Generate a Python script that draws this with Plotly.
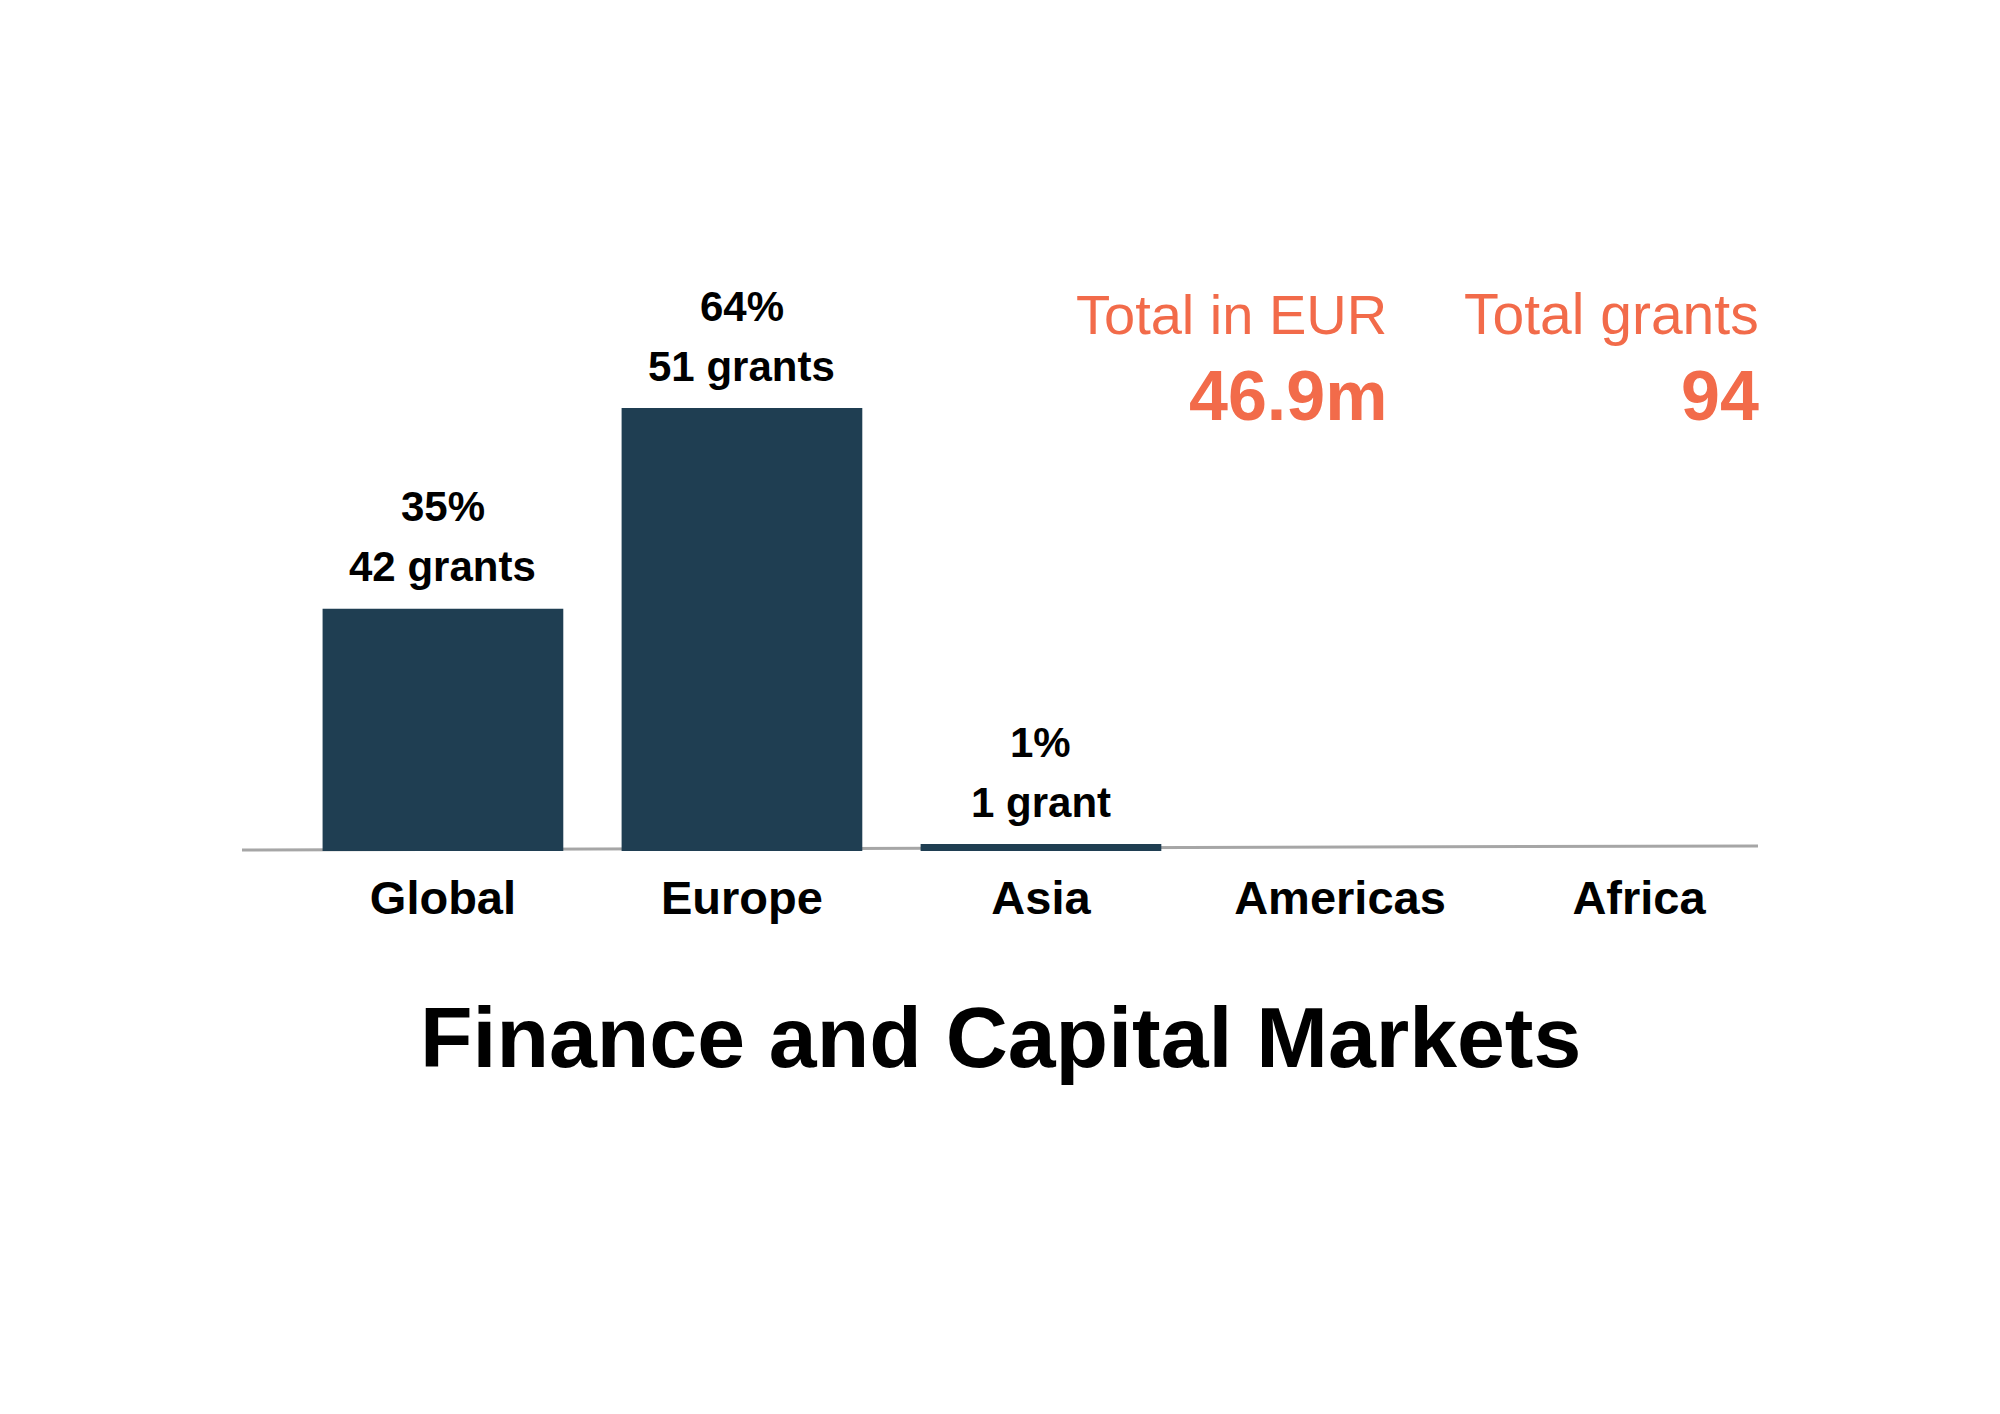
import plotly.graph_objects as go

regions = ["Global", "Europe", "Asia", "Americas", "Africa"]
share_pct = [35, 64, 1, 0, 0]
grants = [42, 51, 1, 0, 0]
title_text = "Finance and Capital Markets"
total_eur_label = "Total in EUR"
total_eur_value = "46.9m"
total_grants_label = "Total grants"
total_grants_value = "94"

BAR = "#1F3E52"
CORAL = "#F26B4A"
FONT = "Liberation Sans, Arial, sans-serif"

W, H = 2000, 1414
OFF = 8  # page body margin compensation
x_left, x_right = 242 - OFF, 1758 - OFF
y_base = 851 - OFF
px_per_unit = 6.92
y_top_val = 70
y_top_px = y_base - y_top_val * px_per_unit

fig = go.Figure()
fig.add_trace(go.Bar(
    x=regions, y=share_pct, marker=dict(color=BAR, line=dict(width=0)),
    hoverinfo="skip",
))

annotations = []
for r, p, g in zip(regions, share_pct, grants):
    if g <= 0:
        continue
    word = "grant" if g == 1 else "grants"
    annotations.append(dict(
        x=r, y=p, xref="x", yref="y", text=f"<b>{g} {word}</b>",
        showarrow=False, yanchor="middle", yshift=42,
        font=dict(family=FONT, size=42, color="#000000"),
    ))
    annotations.append(dict(
        x=r, y=p, xref="x", yref="y", text=f"<b>{p}%</b>",
        showarrow=False, yanchor="middle", yshift=102,
        font=dict(family=FONT, size=42, color="#000000"),
    ))

annotations += [
    dict(x=(1000 - OFF) / W, y=1 - (1037 - OFF) / H, xref="paper", yref="paper", text=f"<b>{title_text}</b>",
         showarrow=False, xanchor="center", yanchor="middle",
         font=dict(family=FONT, size=86, color="#000000")),
    dict(x=(1389 - OFF) / W, y=1 - (314 - OFF) / H, xref="paper", yref="paper", text=total_eur_label,
         showarrow=False, xanchor="right", yanchor="middle",
         font=dict(family=FONT, size=56, color=CORAL)),
    dict(x=(1389 - OFF) / W, y=1 - (396 - OFF) / H, xref="paper", yref="paper", text=f"<b>{total_eur_value}</b>",
         showarrow=False, xanchor="right", yanchor="middle",
         font=dict(family=FONT, size=70, color=CORAL)),
    dict(x=(1761 - OFF) / W, y=1 - (314 - OFF) / H, xref="paper", yref="paper", text=total_grants_label,
         showarrow=False, xanchor="right", yanchor="middle",
         font=dict(family=FONT, size=57, color=CORAL)),
    dict(x=(1761 - OFF) / W, y=1 - (396 - OFF) / H, xref="paper", yref="paper", text=f"<b>{total_grants_value}</b>",
         showarrow=False, xanchor="right", yanchor="middle",
         font=dict(family=FONT, size=70, color=CORAL)),
]

fig.update_layout(
    width=W, height=H,
    margin=dict(l=0, r=0, t=0, b=0),
    paper_bgcolor="white", plot_bgcolor="white",
    showlegend=False,
    bargap=0.195,
    xaxis=dict(
        domain=[x_left / W, x_right / W],
        range=[-0.672, 4.398],
        type="category",
        showgrid=False, zeroline=False, showline=False,
        ticks="", tickfont=dict(family=FONT, size=47, color="#000000"),
        tickvals=regions, ticktext=[f"<b>{r}</b>" for r in regions],
        ticklabelstandoff=15,
    ),
    yaxis=dict(
        domain=[1 - y_base / H, 1 - y_top_px / H],
        range=[0, y_top_val],
        visible=False,
    ),
    annotations=annotations,
    shapes=[dict(
        type="line", xref="paper", yref="paper",
        x0=x_left / W, x1=x_right / W,
        y0=1 - (850 - OFF) / H, y1=1 - (846 - OFF) / H,
        line=dict(color="#A6A6A6", width=3), layer="below",
    )],
)

fig.write_html("out.html")
